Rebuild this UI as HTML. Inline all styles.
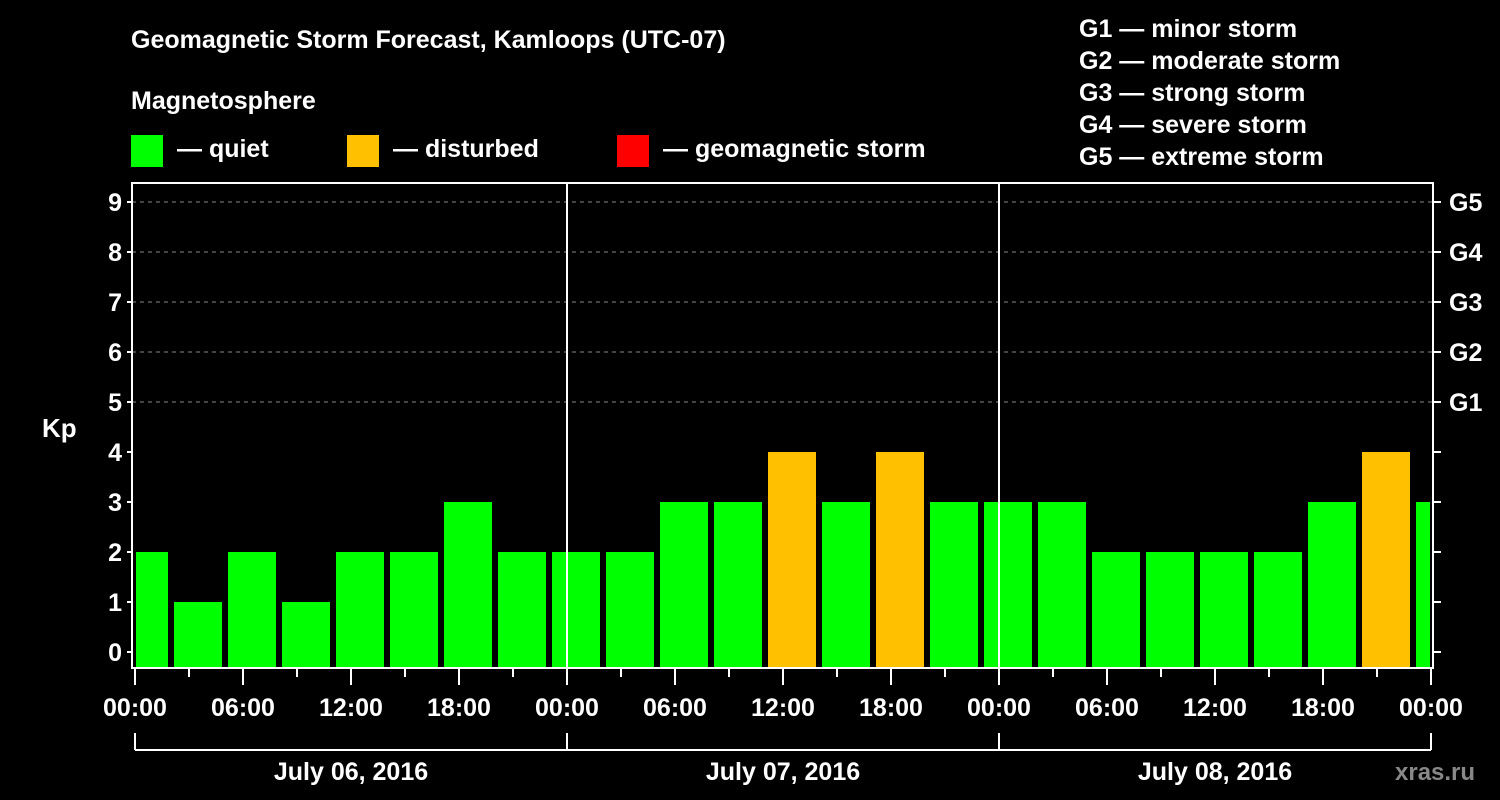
<!DOCTYPE html>
<html><head><meta charset="utf-8"><style>
html,body{margin:0;padding:0;background:#000;}
svg{display:block;font-family:"Liberation Sans",Arial,sans-serif;font-weight:bold;}
</style></head><body>
<svg id="chart" width="1500" height="800" viewBox="0 0 1500 800">
<rect width="1500" height="800" fill="#000"/>
<text x="131" y="48" fill="#fff" font-size="25">Geomagnetic Storm Forecast, Kamloops (UTC-07)</text>
<text x="131" y="109" fill="#fff" font-size="25">Magnetosphere</text>
<g><rect x="131" y="135" width="32" height="32" fill="#00ff00"/><text x="177" y="157" fill="#fff" font-size="25">— quiet</text></g>
<g><rect x="347" y="135" width="32" height="32" fill="#ffc000"/><text x="393" y="157" fill="#fff" font-size="25">— disturbed</text></g>
<g><rect x="617" y="135" width="32" height="32" fill="#ff0000"/><text x="663" y="157" fill="#fff" font-size="25">— geomagnetic storm</text></g>
<g fill="#fff" font-size="25">
<text x="1079" y="37">G1 — minor storm</text>
<text x="1079" y="69">G2 — moderate storm</text>
<text x="1079" y="101">G3 — strong storm</text>
<text x="1079" y="133">G4 — severe storm</text>
<text x="1079" y="165">G5 — extreme storm</text>
</g>
<text x="42" y="437" fill="#fff" font-size="26">Kp</text>
<text x="1395" y="780" fill="#888" font-size="24">xras.ru</text>
<g id="grid"></g><g id="bars"></g><g id="axes"></g>
</svg>
<script>
const kpValues = [2,1,2,1,2,2,3,2, 2,2,3,3,4,3,4,3, 3,3,2,2,2,2,3,4,3];
const kpColors = ["q","q","q","q","q","q","q","q","q","q","q","q","d","q","d","q","q","q","q","q","q","q","q","d","q"];
const yTicks = [0,1,2,3,4,5,6,7,8,9];
const gLabels = ["G1","G2","G3","G4","G5"];
const hourTickLabels = ["00:00","06:00","12:00","18:00"];
const dayLabels = ["July 06, 2016","July 07, 2016","July 08, 2016"];
const binStartHour = -1, binHours = 3, totalHours = 72;

const NS="http://www.w3.org/2000/svg";
const L=132,R=1433,T=183,B=668;
const x=h=>135+h*18;
const y=v=>652-v*50;
const colorMap={q:"#00ff00",d:"#ffc000",s:"#ff0000"};
function mk(tag,attrs,parent,text){const e=document.createElementNS(NS,tag);for(const k in attrs)e.setAttribute(k,attrs[k]);if(text!==undefined)e.textContent=text;parent.appendChild(e);return e;}
const grid=document.getElementById('grid'),bars=document.getElementById('bars'),axes=document.getElementById('axes');

yTicks.forEach(v=>{
  if(v>=5){const g=mk('line',{x1:L,x2:R,y1:y(v),y2:y(v),stroke:"#888","stroke-width":1,"stroke-dasharray":"4,4"},grid);
  
  }
});

kpValues.forEach((v,i)=>{
  const h0=binStartHour+i*binHours;
  let x0=x(h0)+3,x1=x(h0+binHours)-3;
  x0=Math.max(x0,L+4);x1=Math.min(x1,R-3);
  const r=mk('rect',{x:x0,y:y(v),width:x1-x0,height:B-y(v),fill:colorMap[kpColors[i]]},bars);
  
  
});

// day separators
[1,2].forEach(d=>{const l=mk('line',{x1:x(d*24),x2:x(d*24),y1:T,y2:B,stroke:"#fff","stroke-width":2},axes);

});

const frame=mk('rect',{x:L,y:T,width:R-L,height:B-T,fill:"none",stroke:"#fff","stroke-width":2},axes);



yTicks.forEach(v=>{
  mk('line',{x1:L-5,x2:L,y1:y(v),y2:y(v),stroke:"#fff","stroke-width":2},axes);
  mk('line',{x1:R,x2:R+8,y1:y(v),y2:y(v),stroke:"#fff","stroke-width":2},axes);
  const t=mk('text',{x:L-10,y:y(v)+9,fill:"#fff","font-size":25,"text-anchor":"end"},axes,String(v));
  
  
});
gLabels.forEach((g,i)=>{
  const t=mk('text',{x:1449,y:y(5+i)+9,fill:"#fff","font-size":25},axes,g);
  
  
});

for(let h=0;h<=totalHours;h+=3){
  const major=h%6===0;
  mk('line',{x1:x(h),x2:x(h),y1:B,y2:B+(major?17:9),stroke:"#fff","stroke-width":2},axes);
  if(major){
    const lbl=h===totalHours?hourTickLabels[0]:hourTickLabels[(h%24)/6];
    const t=mk('text',{x:x(h),y:716,fill:"#fff","font-size":25,"text-anchor":"middle"},axes,lbl);
    
    
  }
}
mk('line',{x1:x(0),x2:x(72),y1:750,y2:750,stroke:"#fff","stroke-width":2},axes);
for(let d=0;d<=3;d++) mk('line',{x1:x(d*24),x2:x(d*24),y1:733,y2:750,stroke:"#fff","stroke-width":2},axes);
dayLabels.forEach((s,d)=>{
  const t=mk('text',{x:x(d*24+12),y:780,fill:"#fff","font-size":25,"text-anchor":"middle"},axes,s);
  
  
});
</script>
</body></html>
